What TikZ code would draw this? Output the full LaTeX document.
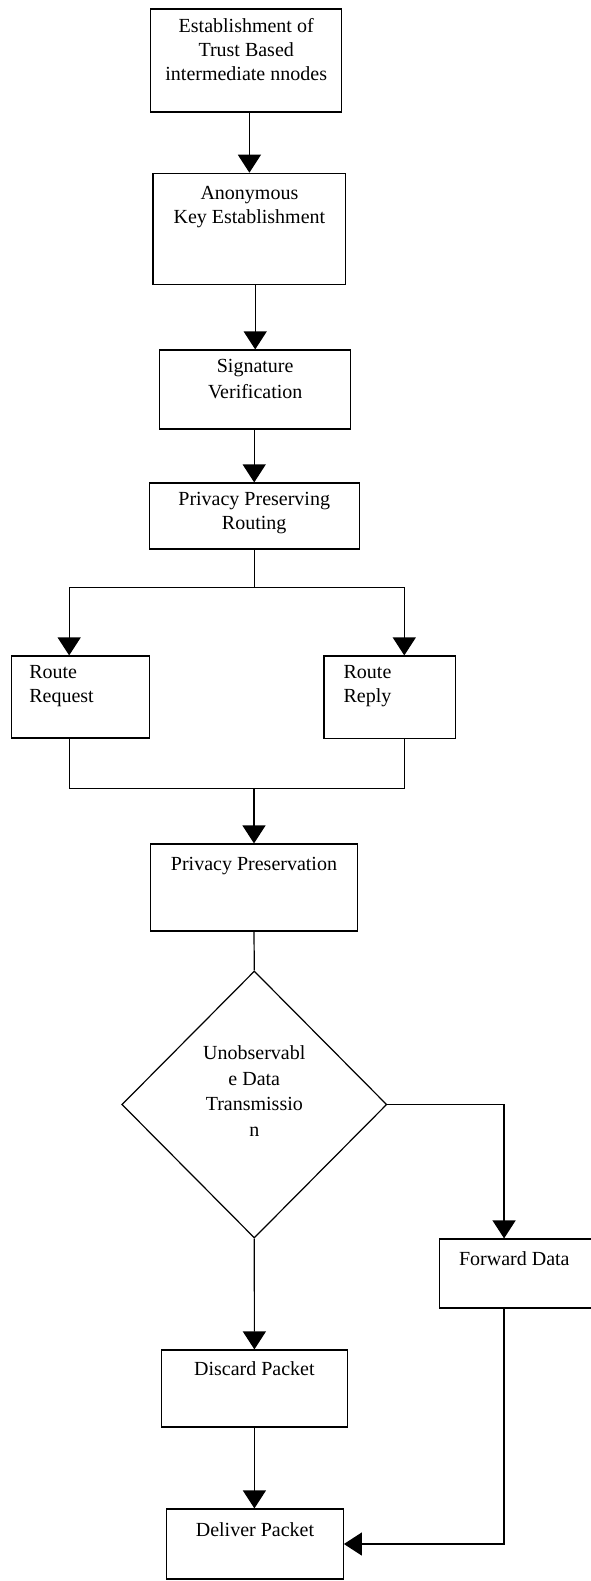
\documentclass[tikz,border=0pt]{standalone}
\usepackage{fontspec}
\setmainfont{Liberation Serif}
\usepackage{tikz}
\usetikzlibrary{positioning}
\usetikzlibrary{shapes.geometric, arrows.meta}
\usetikzlibrary{calc}
\tikzstyle{arrow}=[-{Triangle[width=11.5pt,length=9pt]},semithick]
\tikzstyle{box}=[draw,rectangle,semithick,inner sep=0pt]
\tikzstyle{txt}=[align=center,inner sep=0pt,font=\fontsize{10}{12}\selectfont]

\begin{document}
\begin{tikzpicture}[x=0.5pt,y=-0.5pt,semithick]
		\useasboundingbox (0,0) rectangle (590,1581);
		\node[box,minimum width=95.5pt,minimum height=51.5pt,
			label={[txt,anchor=north,yshift=-4.5pt]north:Establishment of\\Trust Based\\intermediate nnodes}]
			(trust) at (246.2,60.5) {};
		\node[box,minimum width=96.4pt,minimum height=55.5pt,
			label={[txt,anchor=north,yshift=-6.5pt]north:Anonymous\\Key Establishment}]
			(anon) at (249.4,228.8) {};
		\node[box,minimum width=95.5pt,minimum height=39.5pt,
			label={[txt,anchor=north,yshift=-4.5pt,font=\fontsize{10}{13}\selectfont]north:Signature\\Verification}]
			(sig) at (255.2,389.5) {};
		\node[box,minimum width=104.9pt,minimum height=33pt,
			label={[txt,anchor=north,yshift=-4.5pt]north:Privacy Preserving\\Routing}]
			(ppr) at (254.2,516) {};
		\node[box,minimum width=69pt,minimum height=41pt,
			label={[txt,align=left,anchor=north west,xshift=9pt,yshift=-4.5pt]north west:Route\\Request}]
			(req) at (80.3,697) {};
		\node[box,minimum width=65.7pt,minimum height=41.2pt,
			label={[txt,align=left,anchor=north west,xshift=9.8pt,yshift=-4.5pt]north west:Route\\Reply}]
			(rep) at (389.7,697.2) {};
		\node[box,minimum width=103.3pt,minimum height=43.5pt,
			label={[txt,anchor=north,yshift=-6.5pt]north:Privacy Preservation}]
			(pp) at (254,887.5) {};
		\node[box,diamond,minimum width=132.5pt,minimum height=133.5pt,
			label={[txt,anchor=center,yshift=6.75pt,font=\fontsize{10}{12.85}\selectfont]center:Unobservabl\\e Data\\Transmissio\\n}]
			(dec) at (254.3,1104.5) {};
		\node[box,minimum width=82.7pt,minimum height=34.5pt,
			label={[txt,align=left,anchor=north west,xshift=9.7pt,yshift=-6.5pt]north west:Forward Data}]
			(fwd) at (522.4,1273.5) {};
		\node[box,minimum width=92.7pt,minimum height=38.5pt,
			label={[txt,anchor=north,yshift=-6pt]north:Discard Packet}]
			(disc) at (254.4,1388.5) {};
		\node[box,minimum width=88.3pt,minimum height=35pt,
			label={[txt,anchor=north,yshift=-7pt]north:Deliver Packet}]
			(deliv) at (255,1544) {};

		\draw[arrow] (trust.south -| anon.north) -- (anon.north);
		\draw[arrow] (anon.south -| sig.north) -- (sig.north);
		\draw[arrow] (sig.south -| ppr.north) -- (ppr.north);
		\draw (ppr.south) -- ++(0,37.7) coordinate (fork);
		\draw[arrow] (fork) -| ($(req.north west)!0.42!(req.north east)$);
		\draw[arrow] (fork) -| ($(rep.north west)!0.61!(rep.north east)$);
		\coordinate (join) at ($(pp.north)+(0,-55)$);
		\draw ($(req.south west)!0.42!(req.south east)$) |- (join) -| ($(rep.south west)!0.61!(rep.south east)$);
		\draw[arrow] (join) -- (pp.north);
		\draw (pp.south) -- (dec.north);
		\draw[arrow] (dec.east) -| ($(fwd.north west)!0.39!(fwd.north east)$);
		\draw[arrow] (dec.south) -- (disc.north);
		\draw[arrow] (disc.south) -- (disc.south |- deliv.north);
		\draw[arrow] ($(fwd.south west)!0.39!(fwd.south east)$) |- (deliv.east);
\end{tikzpicture}
\end{document}
